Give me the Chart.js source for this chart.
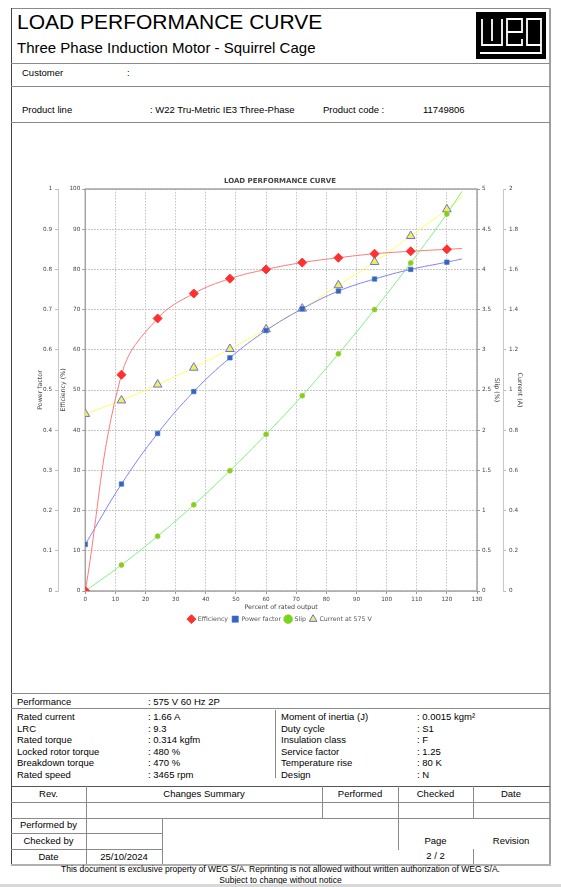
<!DOCTYPE html>
<html>
<head>
<meta charset="utf-8">
<title>Load performance curve</title>
<script src="https://cdn.jsdelivr.net/npm/chart.js@4/dist/chart.umd.min.js"></script>
<style>
body { margin: 0; background: #fff; font-family: "Liberation Sans", Arial, sans-serif; color: #000; }
#page { position: relative; width: 561px; height: 887px; overflow: hidden; background: #fff; }
.t { position: absolute; white-space: nowrap; font-size: 9.5px; line-height: 12px; }
.c { text-align: center; }
.h { position: absolute; height: 1px; background: #8a8a8a; }
.v { position: absolute; width: 1px; background: #8a8a8a; }
#chart { position: absolute; left: 12px; top: 123px; }
</style>
</head>
<body>
<div id="page">
  <!-- frame -->
  <div class="h" style="left:11px;top:8px;width:539px;"></div>
  <div class="v" style="left:11px;top:8px;height:857px;background:#444;"></div>
  <div class="v" style="left:549px;top:8px;height:857px;width:2px;background:#a0a0a0;"></div>
  <div class="h" style="left:11px;top:864px;width:540px;height:2px;background:#b0b0b0;"></div>

  <!-- header -->
  <div class="t" style="left:17px;top:10px;font-size:21px;line-height:24px;">LOAD PERFORMANCE CURVE</div>
  <div class="t" style="left:17px;top:39px;font-size:15px;line-height:18px;">Three Phase Induction Motor - Squirrel Cage</div>
  <svg style="position:absolute;left:476px;top:12px;" width="70" height="47" viewBox="0 0 70 47">
    <rect x="0" y="0" width="70" height="47" fill="#000"/>
    <g fill="none" stroke="#fff" stroke-width="1.8">
      <path d="M6,7 V33 H26 V7 M16,7 V29"/>
      <path d="M46,27 V33 H31 V7 H46 V20 H31"/>
      <path d="M65,33 H51 V7 H65 V41 H4"/>
    </g>
  </svg>
  <div class="h" style="left:11px;top:63px;width:539px;"></div>

  <div class="t" style="left:22px;top:67px;">Customer</div>
  <div class="t" style="left:127px;top:67px;">:</div>
  <div class="h" style="left:11px;top:86px;width:539px;"></div>

  <div class="t" style="left:22px;top:104px;">Product line</div>
  <div class="t" style="left:150px;top:104px;">: W22 Tru-Metric IE3 Three-Phase</div>
  <div class="t" style="left:323px;top:104px;">Product code :</div>
  <div class="t" style="left:423px;top:104px;">11749806</div>
  <div class="h" style="left:11px;top:122px;width:539px;"></div>

  <canvas id="chart" width="536" height="569"></canvas>

  <!-- performance data -->
  <div class="h" style="left:11px;top:693px;width:539px;"></div>
  <div class="t" style="left:17px;top:696px;">Performance</div>
  <div class="t" style="left:148px;top:696px;">: 575 V 60 Hz 2P</div>
  <div class="h" style="left:11px;top:708px;width:539px;"></div>

  <div class="t" style="left:17px;top:711px;">Rated current</div>
  <div class="t" style="left:17px;top:723px;">LRC</div>
  <div class="t" style="left:17px;top:734px;">Rated torque</div>
  <div class="t" style="left:17px;top:746px;">Locked rotor torque</div>
  <div class="t" style="left:17px;top:757px;">Breakdown torque</div>
  <div class="t" style="left:17px;top:769px;">Rated speed</div>
  <div class="t" style="left:148px;top:711px;">: 1.66 A</div>
  <div class="t" style="left:148px;top:723px;">: 9.3</div>
  <div class="t" style="left:148px;top:734px;">: 0.314 kgfm</div>
  <div class="t" style="left:148px;top:746px;">: 480 %</div>
  <div class="t" style="left:148px;top:757px;">: 470 %</div>
  <div class="t" style="left:148px;top:769px;">: 3465 rpm</div>
  <div class="v" style="left:275px;top:710px;height:68px;"></div>
  <div class="t" style="left:281px;top:711px;">Moment of inertia (J)</div>
  <div class="t" style="left:281px;top:723px;">Duty cycle</div>
  <div class="t" style="left:281px;top:734px;">Insulation class</div>
  <div class="t" style="left:281px;top:746px;">Service factor</div>
  <div class="t" style="left:281px;top:757px;">Temperature rise</div>
  <div class="t" style="left:281px;top:769px;">Design</div>
  <div class="t" style="left:417px;top:711px;">: 0.0015 kgm²</div>
  <div class="t" style="left:417px;top:723px;">: S1</div>
  <div class="t" style="left:417px;top:734px;">: F</div>
  <div class="t" style="left:417px;top:746px;">: 1.25</div>
  <div class="t" style="left:417px;top:757px;">: 80 K</div>
  <div class="t" style="left:417px;top:769px;">: N</div>

  <!-- revision table -->
  <div class="h" style="left:11px;top:786px;width:539px;background:#555;"></div>
  <div class="h" style="left:11px;top:802px;width:539px;"></div>
  <div class="h" style="left:11px;top:818px;width:539px;"></div>
  <div class="h" style="left:11px;top:833px;width:151px;"></div>
  <div class="h" style="left:11px;top:849px;width:151px;"></div>
  <div class="v" style="left:86px;top:786px;height:78px;"></div>
  <div class="v" style="left:162px;top:818px;height:46px;"></div>
  <div class="v" style="left:322px;top:786px;height:32px;"></div>
  <div class="v" style="left:398px;top:786px;height:64px;"></div>
  <div class="v" style="left:473px;top:786px;height:32px;"></div>
  <div class="v" style="left:473px;top:849px;height:15px;"></div>

  <div class="t c" style="left:11px;width:75px;top:788px;">Rev.</div>
  <div class="t c" style="left:86px;width:236px;top:788px;">Changes Summary</div>
  <div class="t c" style="left:322px;width:76px;top:788px;">Performed</div>
  <div class="t c" style="left:398px;width:75px;top:788px;">Checked</div>
  <div class="t c" style="left:473px;width:76px;top:788px;">Date</div>

  <div class="t c" style="left:11px;width:75px;top:819px;">Performed by</div>
  <div class="t c" style="left:11px;width:75px;top:835px;">Checked by</div>
  <div class="t c" style="left:11px;width:75px;top:851px;">Date</div>
  <div class="t c" style="left:86px;width:76px;top:851px;">25/10/2024</div>
  <div class="t c" style="left:398px;width:75px;top:835px;">Page</div>
  <div class="t c" style="left:473px;width:76px;top:835px;">Revision</div>
  <div class="t c" style="left:398px;width:75px;top:850px;">2 / 2</div>

  <div class="t c" style="left:0;width:561px;top:863px;font-size:8.5px;">This document is exclusive property of WEG S/A. Reprinting is not allowed without written authorization of WEG S/A.</div>
  <div class="t c" style="left:0;width:561px;top:874px;font-size:8.5px;">Subject to change without notice</div>
  <div style="position:absolute;left:0;top:884px;width:561px;height:3px;background:#d8d8d8;"></div>
</div>

<script>
// percent of rated output; the last entry is where the fitted curves end (no marker there)
const loadPct = [0, 12, 24, 36, 48, 60, 72, 84, 96, 108, 120, 125];
const efficiency = [0, 53.8, 67.8, 74.0, 77.7, 80.0, 81.7, 82.9, 83.9, 84.5, 85.0, 85.2];
const powerFactor = [0.116, 0.266, 0.392, 0.496, 0.580, 0.648, 0.702, 0.746, 0.776, 0.800, 0.818, 0.826];
const slip = [0, 0.324, 0.682, 1.072, 1.496, 1.949, 2.43, 2.95, 3.50, 4.08, 4.69, 4.97];
const current = [0.881, 0.948, 1.027, 1.111, 1.204, 1.302, 1.405, 1.521, 1.637, 1.766, 1.899, 1.96];
const seriesNames = ['Efficiency', 'Power factor', 'Slip', 'Current at 575 V'];

// axis ranges: [min, max, step]
const xRange = [0, 130, 10];
const effRange = [0, 100, 10];
const pfRange = [0, 1, 0.1];
const slipRange = [0, 5, 0.5];
const currentRange = [0, 2, 0.2];

Chart.defaults.font.family = "'DejaVu Sans', sans-serif";
Chart.defaults.font.size = 5.7;
Chart.defaults.color = '#444';

function points(vals) {
    return loadPct.map((x, i) => ({ x: x, y: vals[i] }));
}
function markerSize(r) {
    return ctx => ctx.dataIndex === loadPct.length - 1 ? 0 : r;
}
function fmt(v) {
    return String(+v.toFixed(2));
}

const gridColor = '#c2c2c2';
const titleFont = { size: 6.3 };

function mainAxis(range, pos, w, title, titlePad) {
    return {
        type: 'linear', position: pos, min: range[0], max: range[1], weight: 0,
        afterFit: s => { s.width = w; },
        ticks: { stepSize: range[2], padding: 2, callback: fmt },
        grid: { color: gridColor, tickLength: 3, tickColor: '#999', tickBorderDash: [] },
        border: { display: false, dash: [1.5, 1.5] },
        title: { display: true, text: title, font: titleFont, padding: { top: titlePad, bottom: 0 } }
    };
}
function sideAxis(range, pos, w, title, titlePad) {
    return {
        type: 'linear', position: pos, min: range[0], max: range[1], weight: 1,
        afterFit: s => { s.width = w; },
        ticks: { stepSize: range[2], padding: 3, callback: fmt },
        grid: { drawOnChartArea: false, tickLength: 3, color: '#bbb' },
        border: { display: true, color: '#c8c8c8' },
        title: { display: true, text: title, font: titleFont, padding: { top: titlePad, bottom: 0 } }
    };
}

const plotFrame = {
    id: 'plotFrame',
    beforeDatasetsDraw(chart) {
        const a = chart.chartArea, c = chart.ctx;
        c.save();
        c.strokeStyle = '#a4a4a4';
        c.lineWidth = 1.5;
        c.strokeRect(a.left, a.top, a.right - a.left, a.bottom - a.top);
        c.restore();
    }
};

const graphdata = {
    datasets: [{
            label: seriesNames[0],
            data: points(efficiency),
            yAxisID: 'yEff',
            borderColor: '#ff7a7a',
            borderWidth: 1,
            pointStyle: 'rectRot',
            pointRadius: markerSize(4.5),
            pointBackgroundColor: '#ff3030',
            pointBorderColor: '#ff3030',
            tension: 0.4
        },
        {
            label: seriesNames[1],
            data: points(powerFactor),
            yAxisID: 'yPf',
            borderColor: '#8080ff',
            borderWidth: 1,
            pointStyle: 'rect',
            pointRadius: markerSize(3.2),
            pointBackgroundColor: '#3a5ae0',
            pointBorderColor: '#3a8a80',
            pointBorderWidth: 0.6,
            tension: 0.4
        },
        {
            label: seriesNames[2],
            data: points(slip),
            yAxisID: 'ySlip',
            borderColor: '#80f080',
            borderWidth: 1,
            pointStyle: 'circle',
            pointRadius: markerSize(2.5),
            pointBackgroundColor: '#66dd22',
            pointBorderColor: '#e0b030',
            pointBorderWidth: 0.7,
            tension: 0.4
        },
        {
            label: seriesNames[3],
            data: points(current),
            yAxisID: 'yCur',
            borderColor: '#ffff60',
            borderWidth: 1,
            pointStyle: 'triangle',
            pointRadius: markerSize(5),
            pointBackgroundColor: '#f4f440',
            pointBorderColor: '#6a6aff',
            pointBorderWidth: 1,
            tension: 0.4
        }
    ]
};

const config = {
    type: 'line',
    data: graphdata,
    options: {
        responsive: false,
        animation: false,
        layout: { padding: { top: 53.6, bottom: 59.7, left: 0, right: 0 } },
        scales: {
            x: {
                type: 'linear', position: 'bottom', min: xRange[0], max: xRange[1],
                afterFit: s => { s.height = 21; },
                ticks: { stepSize: xRange[2], padding: 2, maxRotation: 0, autoSkip: false },
                grid: { color: gridColor, tickLength: 3, tickColor: '#999', tickBorderDash: [] },
                border: { display: false, dash: [1.5, 1.5] },
                title: { display: true, text: 'Percent of rated output', font: titleFont, padding: { top: 0, bottom: 1.2 } }
            },
            yPf: sideAxis(pfRange, 'left', 46, 'Power factor', 24.9),
            yEff: mainAxis(effRange, 'left', 27.3, 'Efficiency (%)', 1.7),
            ySlip: mainAxis(slipRange, 'right', 26, 'Slip (%)', 2.2),
            yCur: sideAxis(currentRange, 'right', 45, 'Current (A)', 24.2)
        },
        plugins: {
            title: {
                display: true,
                text: 'LOAD PERFORMANCE CURVE',
                font: { size: 7, weight: 'bold' },
                color: '#444',
                padding: { top: 0, bottom: 4 }
            },
            legend: {
                position: 'bottom',
                labels: { usePointStyle: true, padding: 4, font: { size: 6.3 }, color: '#555' }
            },
            tooltip: { enabled: false }
        }
    },
    plugins: [plotFrame]
};

var ctx = document.getElementById('chart').getContext('2d');
var chart = new Chart(ctx, config);
</script>
</body>
</html>
